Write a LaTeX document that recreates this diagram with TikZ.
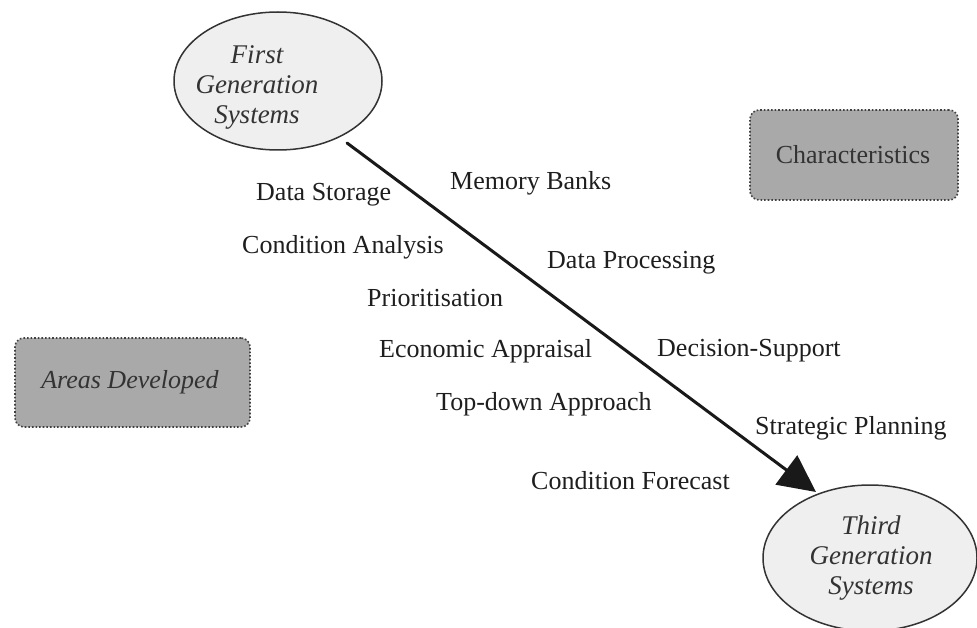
\documentclass[tikz,border=0pt]{standalone}
\usepackage{fontspec}
\setmainfont{Liberation Serif}
\usetikzlibrary{shapes.geometric,arrows.meta}
\definecolor{ellfill}{HTML}{EFEFEF}
\definecolor{ellline}{HTML}{333333}
\definecolor{boxfill}{HTML}{A9A9A9}
\definecolor{boxline}{HTML}{404040}
\definecolor{inktext}{HTML}{1E1E1E}
\definecolor{softtext}{HTML}{333333}
\tikzset{
  gen/.style={ellipse, draw=ellline, fill=ellfill, line width=1.5pt, inner sep=0pt},
  gentext/.style={align=center, text=softtext, font=\fontsize{27}{30}\selectfont\itshape, inner sep=0pt},
  tag/.style={draw=boxline, fill=boxfill, dotted, line width=1.6pt, rounded corners=9pt,
    inner sep=0pt, text=softtext, font=\fontsize{26}{29}\selectfont},
  item/.style={anchor=west, inner sep=0pt, text=inktext, font=\fontsize{26}{29}\selectfont},
  flow/.style={line width=3pt, draw=black!90, -{Triangle[length=37pt,width=36pt]}, line cap=round}
}
\begin{document}
\begin{tikzpicture}[x=1pt, y=-1pt]
\useasboundingbox (0,0) rectangle (977,628);
\clip (0,0) rectangle (977,628);

% the two generations
\node[gen, minimum width=208pt, minimum height=138pt] (first) at (278,81) {};
\node[gentext] (firstlbl) at (257,87) {First\\Generation\\Systems};
\node[gen, minimum width=214pt, minimum height=146pt] (third) at (870,558) {};
\node[gentext] (thirdlbl) at (871,558) {Third\\Generation\\Systems};

% legend boxes
\node[tag, minimum width=208pt, minimum height=90pt] (charbox) at (854,155) {};
\node[inner sep=0pt, text=softtext, font=\fontsize{26}{29}\selectfont] (chartxt) at (853,155) {Characteristics};
\node[tag, minimum width=235pt, minimum height=89pt] (areabox) at (132.5,382.5) {};
\node[inner sep=0pt, text=softtext, font=\fontsize{26}{29}\selectfont\itshape] (areatxt) at (130,382) {Areas Developed};

% development path
\coordinate (pathstart) at (347,143);
\coordinate (pathend) at (816,492);
\draw[flow] (pathstart) -- (pathend);

% areas developed (left of the path)
\node[item] (ds) at (256,195) {Data Storage};
\node[item] (ca) at (242,247) {Condition Analysis};
\node[item] (pr) at (367,298) {Prioritisation};
\node[item] (ea) at (379,351) {Economic Appraisal};
\node[item] (td) at (436,404) {Top-down Approach};
\node[item] (cf) at (531,481) {Condition Forecast};

% characteristics (right of the path)
\node[item] (mb) at (450,183) {Memory Banks};
\node[item] (dp) at (547,263) {Data Processing};
\node[item] (dsu) at (657,351) {Decision-Support};
\node[item] (sp) at (755,428) {Strategic Planning};
\end{tikzpicture}
\end{document}
